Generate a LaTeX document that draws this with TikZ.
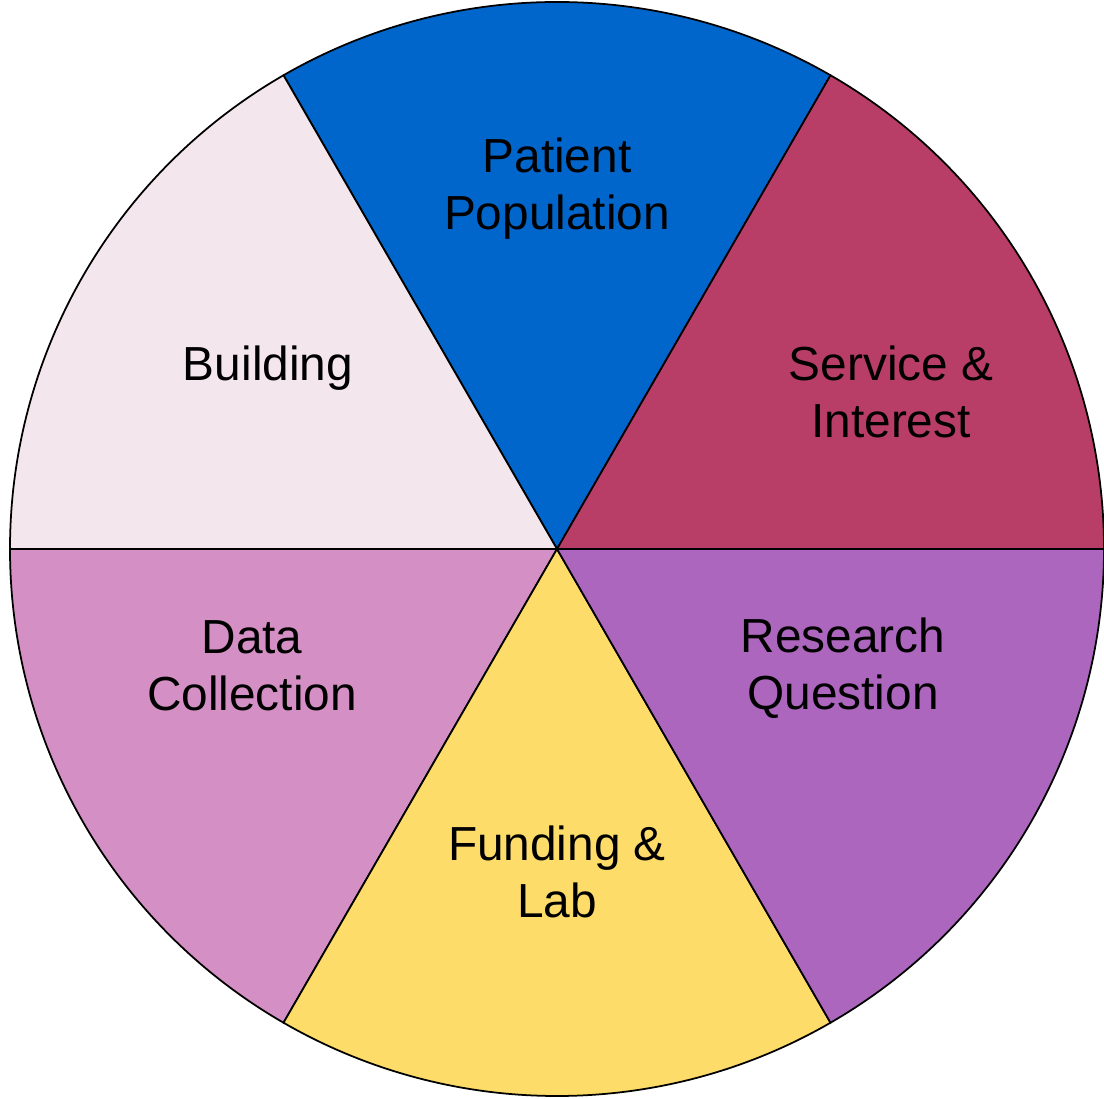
\documentclass[tikz,border=0pt]{standalone}
\usepackage{fontspec}
\setmainfont{Liberation Sans}
\usetikzlibrary{positioning}
\definecolor{azulpac}{RGB}{0,102,204}
\definecolor{granate}{RGB}{184,62,104}
\definecolor{violeta}{RGB}{173,102,189}
\definecolor{amarillo}{RGB}{253,220,105}
\definecolor{rosa}{RGB}{212,143,196}
\definecolor{palido}{RGB}{244,230,237}
\begin{document}
\begin{tikzpicture}[
  sector/.style={draw=black, line width=0.5pt, line join=round},
  etiqueta/.style={align=center, font=\fontsize{13.6}{16.3}\selectfont, text=black}]
  \useasboundingbox (-5.57,-5.49) rectangle (5.47,5.49);
  \coordinate (centro) at (0,0);
  \filldraw[sector, fill=azulpac] (centro) -- (60:5.47) arc[start angle=60, end angle=120, radius=5.47] -- cycle;
  \filldraw[sector, fill=palido] (centro) -- (120:5.47) arc[start angle=120, end angle=180, radius=5.47] -- cycle;
  \filldraw[sector, fill=rosa] (centro) -- (180:5.47) arc[start angle=180, end angle=240, radius=5.47] -- cycle;
  \filldraw[sector, fill=amarillo] (centro) -- (240:5.47) arc[start angle=240, end angle=300, radius=5.47] -- cycle;
  \filldraw[sector, fill=violeta] (centro) -- (300:5.47) arc[start angle=300, end angle=360, radius=5.47] -- cycle;
  \filldraw[sector, fill=granate] (centro) -- (0:5.47) arc[start angle=0, end angle=60, radius=5.47] -- cycle;
  \node[etiqueta] (paciente) at (0,3.60) {Patient\\Population};
  \node[etiqueta] (servicio) at (3.34,1.57) {Service \&\\Interest};
  \node[etiqueta] (pregunta) at (2.86,-1.19) {Research\\Question};
  \node[etiqueta] (fondos) at (0,-3.23) {Funding \&\\Lab};
  \node[etiqueta] (datos) at (-3.05,-1.17) {Data\\Collection};
  \node[etiqueta] (edificio) at (-2.89,1.81) {Building};
\end{tikzpicture}
\end{document}
